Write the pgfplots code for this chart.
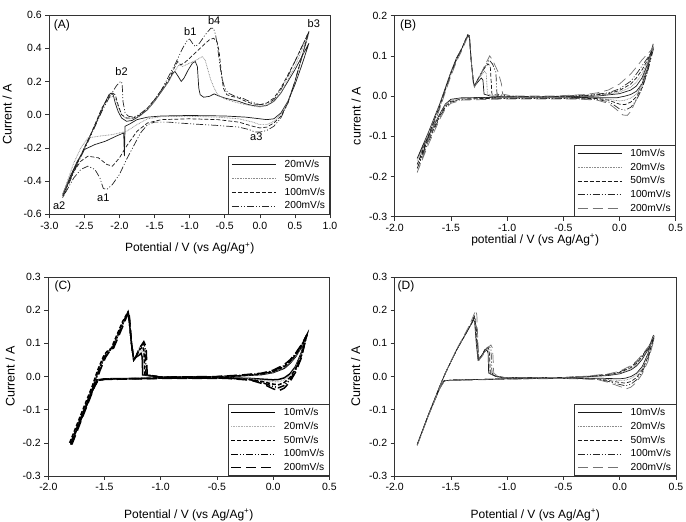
\documentclass[border=0pt]{standalone}
\usepackage{pgfplots}
\pgfplotsset{compat=1.18}
\usepackage{fontspec}
\setmainfont{Liberation Sans}

% line styles for the scan rates
\tikzset{
  solidline/.style={black!90, line width=0.7pt},
  dotline/.style={black!45, line width=0.7pt, dash pattern=on 0.8pt off 0.8pt},
  dashline/.style={black!90, line width=0.7pt, dash pattern=on 4pt off 2pt},
  dashdotline/.style={black!85, line width=0.7pt, dash pattern=on 7pt off 2pt on 1pt off 2pt on 1pt off 2pt},
  longdashline/.style={black!55, line width=0.7pt, dash pattern=on 10pt off 5pt},
}

\pgfplotsset{
  cvaxis/.style={
    scale only axis,
    axis line style={black!80, line width=0.5pt},
    tick align=outside,
    xtick pos=bottom, ytick pos=left,
    major tick length=4pt,
    tick style={black!80, line width=0.5pt},
    ticklabel style={font=\fontsize{10.5}{12}\selectfont},
    xlabel style={font=\fontsize{12}{14}\selectfont},
    ylabel style={font=\fontsize{12.5}{14}\selectfont},
    /pgf/number format/fixed,
    /pgf/number format/fixed zerofill,
    /pgf/number format/precision=1,
    /pgf/number format/assume math mode=true,
    legend cell align=left,
    legend style={at={(1,0)}, anchor=south east, draw=black!80, line width=0.5pt,
      fill=white, font=\fontsize{10.2}{12}\selectfont, inner xsep=3pt, inner ysep=2pt,
      row sep=1.2pt, nodes={inner sep=1.8pt}},
    legend image code/.code={\draw[#1, line width=0.6pt] (0pt,0pt) -- (44pt,0pt);
      \path[draw=none, fill=none] (0pt,0pt) -- (51pt,0pt);},
  },
}

\begin{document}
\begin{tikzpicture}
\useasboundingbox (0,0) rectangle (686pt,522pt);

% ---------------- (A) ----------------
\begin{axis}[cvaxis,
  at={(49.3pt,307.7pt)}, anchor=south west,
  width=280.7pt, height=199.3pt,
  xmin=-3, xmax=1, ymin=-0.6, ymax=0.6,
  xtick={-3,-2.5,-2,-1.5,-1,-0.5,0,0.5,1},
  ytick={-0.6,-0.4,-0.2,0,0.2,0.4,0.6},
  xlabel={Potential / V (vs Ag/Ag\textsuperscript{+})},
  ylabel={Current / A},
  xlabel style={at={(axis description cs:0.5,-0.17)}, anchor=center},
  ylabel style={at={(axis description cs:-0.15,0.5)}, anchor=center},
]
% 20 mV/s
\addplot[solidline] coordinates {
(-2.81,-0.48) (-2.7,-0.38) (-2.6,-0.29) (-2.5,-0.2) (-2.4,-0.11) (-2.3,-0.02)
(-2.22,0.06) (-2.15,0.12) (-2.12,0.13) (-2.09,0.12) (-2.06,0.07) (-2.02,0.02)
(-1.97,-0.02) (-1.9,-0.04) (-1.82,-0.035) (-1.72,-0.01) (-1.6,0.03) (-1.5,0.08)
(-1.4,0.14) (-1.3,0.2) (-1.24,0.25) (-1.21,0.26) (-1.17,0.235) (-1.12,0.20)
(-1.08,0.22) (-1.02,0.27) (-0.96,0.31) (-0.92,0.32) (-0.89,0.29) (-0.87,0.16)
(-0.85,0.12) (-0.8,0.105) (-0.72,0.11) (-0.65,0.125) (-0.6,0.115) (-0.5,0.1)
(-0.4,0.09) (-0.3,0.08) (-0.2,0.065) (-0.1,0.055) (0.0,0.05) (0.1,0.055)
(0.2,0.08) (0.3,0.13) (0.4,0.2) (0.5,0.27) (0.6,0.35) (0.7,0.43)
(0.6,0.3) (0.5,0.18) (0.4,0.08) (0.3,0.01) (0.2,-0.025) (0.1,-0.03) (0.0,-0.025)
(-0.2,-0.015) (-0.5,-0.008) (-1.0,-0.005) (-1.4,-0.008) (-1.6,-0.015) (-1.75,-0.03)
(-1.85,-0.055) (-1.92,-0.07) (-1.93,-0.25) (-1.94,-0.11) (-2.05,-0.13) (-2.2,-0.16)
(-2.35,-0.18) (-2.5,-0.21) (-2.6,-0.28) (-2.7,-0.37) (-2.81,-0.48)};
\addlegendentry{20mV/s}
% 50 mV/s
\addplot[dotline] coordinates {
(-2.81,-0.48) (-2.6,-0.29) (-2.4,-0.11) (-2.25,0.04) (-2.15,0.1) (-2.1,0.11)
(-2.06,0.1) (-2.02,0.05) (-1.97,0.0) (-1.9,-0.025) (-1.8,-0.025) (-1.7,-0.005)
(-1.6,0.03) (-1.5,0.08) (-1.4,0.14) (-1.3,0.2) (-1.2,0.27) (-1.15,0.3) (-1.1,0.29)
(-1.0,0.31) (-0.9,0.33) (-0.82,0.35) (-0.78,0.33) (-0.74,0.27) (-0.7,0.21)
(-0.65,0.16) (-0.6,0.12) (-0.5,0.095) (-0.35,0.075) (-0.2,0.06) (0.0,0.045)
(0.1,0.055) (0.2,0.08) (0.3,0.13) (0.4,0.21) (0.5,0.29) (0.6,0.39) (0.7,0.49)
(0.6,0.34) (0.5,0.2) (0.4,0.08) (0.3,0.0) (0.2,-0.04) (0.1,-0.06) (0.0,-0.06)
(-0.1,-0.045) (-0.3,-0.025) (-0.6,-0.015) (-1.0,-0.01) (-1.4,-0.012) (-1.6,-0.025)
(-1.75,-0.06) (-1.9,-0.1) (-2.1,-0.12) (-2.3,-0.13) (-2.45,-0.14) (-2.55,-0.2)
(-2.65,-0.29) (-2.81,-0.48)};
\addlegendentry{50mV/s}
% 100 mV/s
\addplot[dashline] coordinates {
(-2.81,-0.49) (-2.6,-0.29) (-2.4,-0.11) (-2.25,0.04) (-2.15,0.11) (-2.1,0.13)
(-2.06,0.12) (-2.02,0.06) (-1.97,0.0) (-1.9,-0.02) (-1.8,-0.02) (-1.7,0.0)
(-1.6,0.04) (-1.5,0.09) (-1.4,0.15) (-1.3,0.21) (-1.22,0.28) (-1.17,0.32)
(-1.13,0.30) (-1.08,0.31) (-1.0,0.34) (-0.9,0.38) (-0.8,0.42) (-0.72,0.45)
(-0.66,0.46) (-0.61,0.44) (-0.58,0.38) (-0.55,0.26) (-0.52,0.16) (-0.47,0.12)
(-0.4,0.11) (-0.3,0.1) (-0.2,0.08) (-0.1,0.065) (0.0,0.06) (0.1,0.07) (0.2,0.1)
(0.3,0.16) (0.4,0.24) (0.5,0.32) (0.6,0.41) (0.7,0.5)
(0.6,0.35) (0.5,0.2) (0.4,0.07) (0.3,-0.01) (0.2,-0.05) (0.1,-0.075) (0.0,-0.08)
(-0.1,-0.07) (-0.3,-0.045) (-0.6,-0.03) (-1.0,-0.025) (-1.4,-0.03) (-1.6,-0.05)
(-1.75,-0.1) (-1.9,-0.19) (-2.0,-0.26) (-2.1,-0.31) (-2.18,-0.3) (-2.3,-0.26)
(-2.45,-0.25) (-2.55,-0.28) (-2.65,-0.34) (-2.81,-0.49)};
\addlegendentry{100mV/s}
% 200 mV/s
\addplot[dashdotline] coordinates {
(-2.81,-0.5) (-2.6,-0.3) (-2.4,-0.12) (-2.25,0.02) (-2.15,0.1) (-2.05,0.17)
(-2.0,0.195) (-1.97,0.2) (-1.96,0.17) (-1.95,0.08) (-1.92,0.01) (-1.87,-0.01)
(-1.8,-0.015) (-1.72,0.0) (-1.6,0.04) (-1.5,0.09) (-1.4,0.15) (-1.3,0.23)
(-1.2,0.31) (-1.1,0.4) (-1.03,0.45) (-1.0,0.455) (-0.96,0.43) (-0.92,0.41)
(-0.86,0.43) (-0.78,0.48) (-0.7,0.52) (-0.66,0.52) (-0.63,0.48) (-0.6,0.4)
(-0.57,0.3) (-0.54,0.22) (-0.5,0.16) (-0.45,0.13) (-0.35,0.11) (-0.25,0.1)
(-0.15,0.08) (0.0,0.06) (0.1,0.065) (0.2,0.09) (0.3,0.15) (0.4,0.23) (0.5,0.32)
(0.6,0.41) (0.7,0.5)
(0.6,0.35) (0.5,0.2) (0.4,0.07) (0.3,-0.02) (0.2,-0.07) (0.1,-0.095) (0.0,-0.105)
(-0.07,-0.105) (-0.15,-0.09) (-0.3,-0.075) (-0.6,-0.065) (-1.0,-0.055) (-1.3,-0.045)
(-1.5,-0.045) (-1.6,-0.06) (-1.7,-0.11) (-1.8,-0.19) (-1.9,-0.27) (-2.0,-0.36)
(-2.1,-0.42) (-2.18,-0.45) (-2.23,-0.445) (-2.28,-0.38) (-2.35,-0.33) (-2.45,-0.31)
(-2.55,-0.33) (-2.65,-0.38) (-2.81,-0.5)};
\addlegendentry{200mV/s}
\begin{scope}[every node/.style={font=\fontsize{11}{13}\selectfont}]
\node[font=\fontsize{12}{14}\selectfont] at (axis cs:-2.82,0.54) {(A)};
\node at (axis cs:-0.99,0.50) {b1};
\node at (axis cs:-0.65,0.566) {b4};
\node at (axis cs:-1.97,0.26) {b2};
\node at (axis cs:0.77,0.546) {b3};
\node at (axis cs:-2.23,-0.50) {a1};
\node at (axis cs:-2.86,-0.55) {a2};
\node at (axis cs:-0.05,-0.134) {a3};
\end{scope}
\end{axis}

% ---------------- (B) ----------------
\begin{axis}[cvaxis,
  at={(394.7pt,305.3pt)}, anchor=south west,
  width=281pt, height=201pt,
  xmin=-2, xmax=0.5, ymin=-0.3, ymax=0.2,
  xtick={-2,-1.5,-1,-0.5,0,0.5},
  ytick={-0.3,-0.2,-0.1,0,0.1,0.2},
  xlabel={potential / V (vs Ag/Ag\textsuperscript{+})},
  ylabel={current / A},
  xlabel style={at={(axis description cs:0.5,-0.116)}, anchor=center},
  ylabel style={at={(axis description cs:-0.137,0.5)}, anchor=center},
]
\addplot[solidline] coordinates {
(-1.8,-0.155) (-1.7,-0.09) (-1.6,-0.02) (-1.55,0.02) (-1.5,0.06) (-1.45,0.095)
(-1.4,0.12) (-1.37,0.14) (-1.35,0.15) (-1.335,0.145) (-1.32,0.09) (-1.3,0.035)
(-1.29,0.025) (-1.26,0.035) (-1.23,0.045) (-1.215,0.04) (-1.205,0.005) (-1.15,0.0)
(-1.0,-0.002) (-0.7,-0.002) (-0.4,-0.001) (-0.2,0.0) (-0.1,0.003) (0.0,0.006)
(0.1,0.015) (0.15,0.025) (0.2,0.045) (0.25,0.08) (0.3,0.13)
(0.25,0.07) (0.2,0.03) (0.15,0.012) (0.1,0.004) (0.05,0.0) (-0.02,-0.004)
(-0.2,-0.004) (-0.5,-0.003) (-1.0,-0.003) (-1.4,-0.004) (-1.5,-0.008) (-1.55,-0.02)
(-1.6,-0.045) (-1.7,-0.1) (-1.8,-0.155)};
\addlegendentry{10mV/s}
\addplot[dotline] coordinates {
(-1.8,-0.16) (-1.7,-0.093) (-1.6,-0.022) (-1.55,0.018) (-1.5,0.058) (-1.45,0.093)
(-1.4,0.12) (-1.37,0.14) (-1.35,0.152) (-1.335,0.148) (-1.32,0.09) (-1.3,0.035)
(-1.29,0.025) (-1.25,0.045) (-1.2,0.062) (-1.185,0.055) (-1.175,0.005) (-1.1,0.0)
(-0.7,-0.002) (-0.3,0.0) (-0.1,0.004) (0.0,0.01) (0.1,0.022) (0.15,0.035)
(0.2,0.055) (0.25,0.085) (0.3,0.125)
(0.25,0.065) (0.2,0.025) (0.15,0.005) (0.1,-0.005) (0.05,-0.01) (0.0,-0.012)
(-0.05,-0.01) (-0.15,-0.006) (-0.5,-0.004) (-1.0,-0.004) (-1.4,-0.005) (-1.5,-0.01)
(-1.55,-0.022) (-1.6,-0.048) (-1.7,-0.103) (-1.8,-0.16)};
\addlegendentry{20mV/s}
\addplot[dashline] coordinates {
(-1.8,-0.17) (-1.7,-0.098) (-1.6,-0.025) (-1.55,0.016) (-1.5,0.056) (-1.45,0.092)
(-1.4,0.12) (-1.37,0.14) (-1.35,0.153) (-1.335,0.15) (-1.32,0.09) (-1.3,0.035)
(-1.29,0.025) (-1.25,0.047) (-1.2,0.07) (-1.17,0.08) (-1.15,0.075) (-1.135,0.005)
(-1.05,0.0) (-0.7,-0.002) (-0.3,0.001) (-0.1,0.006) (0.0,0.014) (0.1,0.03)
(0.15,0.045) (0.2,0.065) (0.25,0.09) (0.3,0.12)
(0.25,0.065) (0.2,0.02) (0.15,-0.002) (0.1,-0.015) (0.05,-0.021) (0.0,-0.02)
(-0.05,-0.015) (-0.1,-0.01) (-0.2,-0.006) (-0.5,-0.005) (-1.0,-0.005) (-1.4,-0.007)
(-1.5,-0.013) (-1.55,-0.025) (-1.6,-0.05) (-1.7,-0.108) (-1.8,-0.17)};
\addlegendentry{50mV/s}
\addplot[dashdotline] coordinates {
(-1.8,-0.18) (-1.7,-0.103) (-1.6,-0.028) (-1.55,0.014) (-1.5,0.054) (-1.45,0.09)
(-1.4,0.118) (-1.37,0.138) (-1.35,0.15) (-1.335,0.148) (-1.32,0.09) (-1.3,0.033)
(-1.29,0.025) (-1.25,0.048) (-1.2,0.072) (-1.16,0.09) (-1.13,0.08) (-1.1,0.06)
(-1.09,0.005) (-1.0,0.0) (-0.7,-0.002) (-0.3,0.002) (-0.1,0.008) (0.0,0.018)
(0.1,0.037) (0.15,0.055) (0.2,0.075) (0.25,0.095) (0.3,0.115)
(0.25,0.06) (0.2,0.018) (0.15,-0.01) (0.1,-0.028) (0.05,-0.035) (0.0,-0.032)
(-0.05,-0.022) (-0.1,-0.014) (-0.2,-0.008) (-0.5,-0.006) (-1.0,-0.006) (-1.4,-0.008)
(-1.5,-0.015) (-1.55,-0.028) (-1.6,-0.053) (-1.7,-0.113) (-1.8,-0.18)};
\addlegendentry{100mV/s}
\addplot[longdashline] coordinates {
(-1.8,-0.19) (-1.7,-0.11) (-1.6,-0.032) (-1.55,0.01) (-1.5,0.05) (-1.45,0.086)
(-1.4,0.115) (-1.37,0.135) (-1.35,0.148) (-1.335,0.146) (-1.32,0.09) (-1.3,0.03)
(-1.29,0.022) (-1.25,0.046) (-1.2,0.075) (-1.155,0.1) (-1.13,0.09) (-1.08,0.06)
(-1.05,0.03) (-1.04,0.005) (-0.95,0.0) (-0.6,0.0) (-0.3,0.004) (-0.2,0.008)
(-0.1,0.015) (0.0,0.03) (0.1,0.055) (0.15,0.072) (0.2,0.09) (0.25,0.105) (0.3,0.12)
(0.27,0.095) (0.22,0.055) (0.18,0.02) (0.14,-0.015) (0.1,-0.038) (0.07,-0.048)
(0.03,-0.047) (0.0,-0.04) (-0.05,-0.028) (-0.1,-0.018) (-0.2,-0.01) (-0.4,-0.007)
(-1.0,-0.007) (-1.4,-0.01) (-1.5,-0.018) (-1.55,-0.032) (-1.6,-0.058) (-1.7,-0.12)
(-1.8,-0.19)};
\addlegendentry{200mV/s}
\node[font=\fontsize{12}{14}\selectfont] at (axis cs:-1.88,0.177) {(B)};
\end{axis}

% ---------------- (C) ----------------
\begin{axis}[cvaxis,
  at={(48.3pt,46pt)}, anchor=south west,
  width=281pt, height=199pt,
  xmin=-2, xmax=0.5, ymin=-0.3, ymax=0.3,
  xtick={-2,-1.5,-1,-0.5,0,0.5},
  ytick={-0.3,-0.2,-0.1,0,0.1,0.2,0.3},
  xlabel={Potential / V (vs Ag/Ag\textsuperscript{+})},
  ylabel={Current / A},
  xlabel style={at={(axis description cs:0.5,-0.196)}, anchor=center},
  ylabel style={at={(axis description cs:-0.136,0.5)}, anchor=center},
]
\addplot[solidline, black, line width=1.5pt] coordinates {
(-1.8,-0.2) (-1.7,-0.115) (-1.6,-0.03) (-1.55,0.02) (-1.5,0.06) (-1.47,0.075)
(-1.43,0.085) (-1.38,0.125) (-1.33,0.165) (-1.295,0.19) (-1.28,0.17) (-1.26,0.1)
(-1.24,0.05) (-1.22,0.058) (-1.19,0.065) (-1.175,0.07) (-1.165,0.06) (-1.16,0.005)
(-1.0,-0.002) (-0.5,-0.001) (-0.3,0.002) (-0.1,0.006) (0.0,0.012) (0.1,0.025)
(0.15,0.04) (0.2,0.06) (0.25,0.088) (0.3,0.125)
(0.25,0.07) (0.2,0.03) (0.15,0.008) (0.1,-0.004) (0.05,-0.009) (0.0,-0.01)
(-0.1,-0.008) (-0.2,-0.006) (-0.4,-0.004) (-1.0,-0.005) (-1.5,-0.007) (-1.56,-0.01)
(-1.6,-0.035) (-1.7,-0.12) (-1.8,-0.2)};
\addlegendentry{10mV/s}
\addplot[dotline, black!30, line width=1.2pt] coordinates {
(-1.8,-0.2) (-1.7,-0.115) (-1.6,-0.03) (-1.55,0.02) (-1.5,0.06) (-1.47,0.075)
(-1.43,0.085) (-1.38,0.125) (-1.33,0.165) (-1.295,0.192) (-1.28,0.17) (-1.26,0.1)
(-1.24,0.05) (-1.22,0.06) (-1.19,0.072) (-1.165,0.08) (-1.155,0.07) (-1.15,0.005)
(-1.0,-0.002) (-0.5,-0.001) (-0.3,0.002) (-0.1,0.007) (0.0,0.013) (0.1,0.027)
(0.15,0.042) (0.2,0.062) (0.25,0.088) (0.3,0.125)
(0.25,0.066) (0.2,0.027) (0.15,0.003) (0.1,-0.01) (0.05,-0.016) (0.0,-0.016)
(-0.1,-0.011) (-0.2,-0.007) (-0.4,-0.005) (-1.0,-0.005) (-1.5,-0.008) (-1.56,-0.011)
(-1.6,-0.035) (-1.7,-0.12) (-1.8,-0.2)};
\addlegendentry{20mV/s}
\addplot[dashline, black, line width=1.5pt] coordinates {
(-1.81,-0.2) (-1.71,-0.115) (-1.61,-0.03) (-1.56,0.02) (-1.51,0.06) (-1.48,0.075)
(-1.44,0.085) (-1.39,0.125) (-1.34,0.165) (-1.29,0.195) (-1.28,0.17) (-1.26,0.1)
(-1.24,0.05) (-1.22,0.06) (-1.19,0.08) (-1.16,0.09) (-1.15,0.08) (-1.14,0.005)
(-1.0,-0.002) (-0.5,-0.001) (-0.3,0.002) (-0.1,0.008) (0.0,0.015) (0.1,0.03)
(0.15,0.045) (0.2,0.065) (0.25,0.09) (0.3,0.125)
(0.25,0.062) (0.2,0.023) (0.15,-0.003) (0.1,-0.018) (0.05,-0.025) (0.0,-0.023)
(-0.1,-0.015) (-0.2,-0.009) (-0.4,-0.005) (-1.0,-0.005) (-1.5,-0.008) (-1.56,-0.012)
(-1.6,-0.035) (-1.7,-0.12) (-1.8,-0.2)};
\addlegendentry{50mV/s}
\addplot[dashdotline, black, line width=1.5pt] coordinates {
(-1.8,-0.205) (-1.7,-0.118) (-1.6,-0.032) (-1.55,0.018) (-1.5,0.058) (-1.47,0.073)
(-1.43,0.085) (-1.38,0.125) (-1.33,0.165) (-1.29,0.196) (-1.28,0.17) (-1.26,0.1)
(-1.24,0.05) (-1.22,0.06) (-1.19,0.085) (-1.155,0.1) (-1.14,0.09) (-1.13,0.005)
(-1.0,-0.002) (-0.5,-0.001) (-0.3,0.003) (-0.1,0.009) (0.0,0.017) (0.1,0.033)
(0.15,0.048) (0.2,0.068) (0.25,0.093) (0.3,0.125)
(0.25,0.058) (0.2,0.018) (0.15,-0.01) (0.1,-0.027) (0.05,-0.034) (0.0,-0.03)
(-0.1,-0.018) (-0.2,-0.01) (-0.4,-0.005) (-1.0,-0.005) (-1.5,-0.008) (-1.56,-0.012)
(-1.6,-0.037) (-1.7,-0.122) (-1.8,-0.205)};
\addlegendentry{100mV/s}
\addplot[longdashline, black, line width=1.5pt] coordinates {
(-1.79,-0.205) (-1.69,-0.118) (-1.59,-0.032) (-1.54,0.018) (-1.49,0.058) (-1.46,0.073)
(-1.42,0.085) (-1.37,0.125) (-1.32,0.165) (-1.285,0.198) (-1.275,0.17) (-1.26,0.1)
(-1.24,0.05) (-1.22,0.06) (-1.19,0.085) (-1.15,0.105) (-1.13,0.09) (-1.12,0.005)
(-1.0,-0.002) (-0.5,0.0) (-0.3,0.004) (-0.1,0.01) (0.0,0.019) (0.1,0.036)
(0.15,0.05) (0.2,0.07) (0.25,0.095) (0.3,0.125)
(0.25,0.055) (0.2,0.013) (0.15,-0.016) (0.1,-0.035) (0.05,-0.043) (0.0,-0.037)
(-0.1,-0.021) (-0.2,-0.011) (-0.4,-0.006) (-1.0,-0.006) (-1.5,-0.009) (-1.56,-0.013)
(-1.6,-0.038) (-1.7,-0.122) (-1.8,-0.205)};
\addlegendentry{200mV/s}
\node[font=\fontsize{12}{14}\selectfont] at (axis cs:-1.87,0.273) {(C)};
\end{axis}

% ---------------- (D) ----------------
\begin{axis}[cvaxis,
  at={(394.7pt,46pt)}, anchor=south west,
  width=281.3pt, height=199pt,
  xmin=-2, xmax=0.5, ymin=-0.3, ymax=0.3,
  xtick={-2,-1.5,-1,-0.5,0,0.5},
  ytick={-0.3,-0.2,-0.1,0,0.1,0.2,0.3},
  xlabel={Potential / V (vs Ag/Ag\textsuperscript{+})},
  ylabel={Current / A},
  xlabel style={at={(axis description cs:0.5,-0.196)}, anchor=center},
  ylabel style={at={(axis description cs:-0.139,0.5)}, anchor=center},
]
\addplot[solidline] coordinates {
(-1.8,-0.205) (-1.7,-0.115) (-1.6,-0.03) (-1.55,0.01) (-1.5,0.045) (-1.45,0.08)
(-1.4,0.11) (-1.35,0.14) (-1.31,0.163) (-1.3,0.172) (-1.29,0.165) (-1.275,0.1)
(-1.26,0.05) (-1.23,0.062) (-1.2,0.075) (-1.18,0.08) (-1.17,0.07) (-1.165,0.01)
(-1.1,0.0) (-1.0,-0.004) (-0.5,-0.003) (-0.3,-0.001) (-0.1,0.003) (0.0,0.008)
(0.1,0.02) (0.15,0.032) (0.2,0.052) (0.25,0.08) (0.3,0.125)
(0.25,0.068) (0.2,0.03) (0.15,0.01) (0.1,0.0) (0.05,-0.005) (0.0,-0.007)
(-0.1,-0.006) (-0.2,-0.005) (-0.5,-0.005) (-1.0,-0.007) (-1.5,-0.011) (-1.56,-0.013)
(-1.6,-0.035) (-1.7,-0.115) (-1.8,-0.205)};
\addlegendentry{10mV/s}
\addplot[dotline] coordinates {
(-1.8,-0.205) (-1.7,-0.115) (-1.6,-0.03) (-1.55,0.01) (-1.5,0.045) (-1.45,0.08)
(-1.4,0.11) (-1.35,0.14) (-1.31,0.165) (-1.295,0.178) (-1.285,0.17) (-1.272,0.1)
(-1.258,0.05) (-1.23,0.062) (-1.2,0.078) (-1.175,0.085) (-1.165,0.075) (-1.158,0.01)
(-1.1,0.0) (-1.0,-0.004) (-0.5,-0.003) (-0.3,-0.001) (-0.1,0.004) (0.0,0.01)
(0.1,0.023) (0.15,0.036) (0.2,0.056) (0.25,0.083) (0.3,0.12)
(0.25,0.064) (0.2,0.026) (0.15,0.005) (0.1,-0.006) (0.05,-0.011) (0.0,-0.012)
(-0.1,-0.009) (-0.2,-0.006) (-0.5,-0.005) (-1.0,-0.007) (-1.5,-0.011) (-1.56,-0.013)
(-1.6,-0.035) (-1.7,-0.115) (-1.8,-0.205)};
\addlegendentry{20mV/s}
\addplot[dashline] coordinates {
(-1.8,-0.205) (-1.7,-0.115) (-1.6,-0.03) (-1.55,0.01) (-1.5,0.045) (-1.45,0.08)
(-1.4,0.11) (-1.35,0.14) (-1.31,0.166) (-1.295,0.18) (-1.285,0.17) (-1.27,0.1)
(-1.255,0.05) (-1.23,0.062) (-1.2,0.08) (-1.17,0.088) (-1.16,0.08) (-1.15,0.01)
(-1.1,0.0) (-1.0,-0.004) (-0.5,-0.003) (-0.3,0.0) (-0.1,0.005) (0.0,0.012)
(0.1,0.027) (0.15,0.04) (0.2,0.06) (0.25,0.085) (0.3,0.115)
(0.25,0.058) (0.2,0.02) (0.15,-0.003) (0.1,-0.015) (0.05,-0.02) (0.0,-0.018)
(-0.1,-0.012) (-0.2,-0.007) (-0.5,-0.005) (-1.0,-0.007) (-1.5,-0.011) (-1.56,-0.013)
(-1.6,-0.035) (-1.7,-0.115) (-1.8,-0.205)};
\addlegendentry{50mV/s}
\addplot[dashdotline] coordinates {
(-1.8,-0.207) (-1.7,-0.117) (-1.6,-0.031) (-1.55,0.01) (-1.5,0.045) (-1.45,0.08)
(-1.4,0.11) (-1.35,0.14) (-1.31,0.167) (-1.29,0.182) (-1.28,0.17) (-1.265,0.1)
(-1.25,0.05) (-1.23,0.062) (-1.2,0.08) (-1.16,0.092) (-1.145,0.082) (-1.135,0.01)
(-1.1,0.0) (-1.0,-0.004) (-0.5,-0.003) (-0.3,0.0) (-0.1,0.006) (0.0,0.014)
(0.1,0.03) (0.15,0.044) (0.2,0.063) (0.25,0.087) (0.3,0.11)
(0.25,0.052) (0.2,0.014) (0.15,-0.01) (0.1,-0.023) (0.05,-0.028) (0.0,-0.024)
(-0.1,-0.015) (-0.2,-0.008) (-0.5,-0.005) (-1.0,-0.007) (-1.5,-0.011) (-1.56,-0.013)
(-1.6,-0.036) (-1.7,-0.117) (-1.8,-0.207)};
\addlegendentry{100mV/s}
\addplot[longdashline] coordinates {
(-1.8,-0.208) (-1.7,-0.118) (-1.6,-0.032) (-1.55,0.01) (-1.5,0.046) (-1.45,0.082)
(-1.4,0.113) (-1.35,0.145) (-1.31,0.175) (-1.28,0.2) (-1.27,0.185) (-1.26,0.1)
(-1.25,0.05) (-1.22,0.062) (-1.18,0.085) (-1.145,0.095) (-1.13,0.085) (-1.12,0.01)
(-1.08,0.0) (-1.0,-0.004) (-0.5,-0.003) (-0.3,0.001) (-0.1,0.008) (0.0,0.016)
(0.1,0.033) (0.15,0.047) (0.2,0.066) (0.25,0.088) (0.3,0.105)
(0.25,0.045) (0.2,0.008) (0.15,-0.017) (0.1,-0.032) (0.06,-0.037) (0.0,-0.03)
(-0.1,-0.018) (-0.2,-0.009) (-0.5,-0.006) (-1.0,-0.008) (-1.5,-0.012) (-1.56,-0.014)
(-1.6,-0.037) (-1.7,-0.118) (-1.8,-0.208)};
\addlegendentry{200mV/s}
\node[font=\fontsize{12}{14}\selectfont] at (axis cs:-1.90,0.273) {(D)};
\end{axis}
\end{tikzpicture}
\end{document}
